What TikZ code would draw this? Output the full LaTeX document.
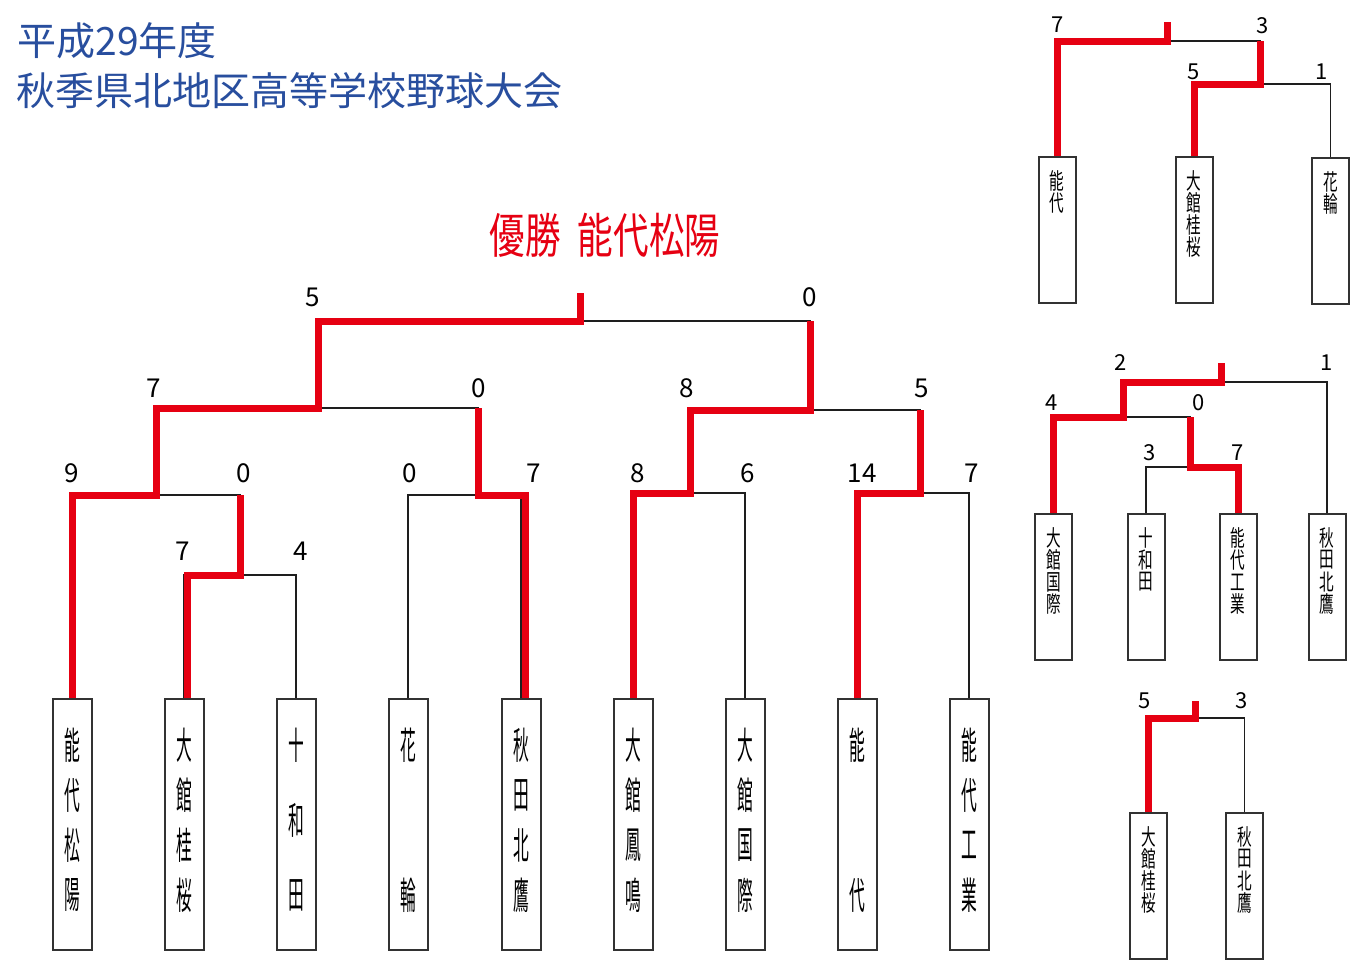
\documentclass[tikz,border=0pt]{standalone}
\usepackage{fontspec}
\usepackage{graphicx}
\setmainfont{Noto Sans CJK JP}
\definecolor{ttlblue}{RGB}{40,78,158}
\definecolor{winred}{RGB}{230,0,18}
\definecolor{boxgray}{RGB}{50,50,50}
\definecolor{linegray}{RGB}{30,30,30}
% main team: name, x, number of chars, chars
\newcommand\mteam[4]{%
  \node[mbox] (#1) at (#2,698) {};
  \foreach \c [count=\i] in {#4}
    \node[mchar] (#1-\i) at (#2,{745+150*(\i-1)/(#3-1)}) {\scalebox{0.42}[1]{\c}};
}
% small team: name, x, top y, chars
\newcommand\steam[4]{%
  \node[sbox] (#1) at (#2,#3) {};
  \foreach \c [count=\i] in {#4}
    \node[schar] (#1-\i) at (#2,{#3+25+22*(\i-1)}) {\scalebox{0.65}[1]{\c}};
}
\begin{document}
\begin{tikzpicture}[x=0.5pt,y=-0.5pt,
  mbox/.style={draw=boxgray,line width=1pt,fill=white,minimum width=19.5pt,minimum height=125.5pt,inner sep=0pt,anchor=north},
  sbox/.style={draw=boxgray,line width=1pt,fill=white,minimum width=18.5pt,minimum height=73pt,inner sep=0pt,anchor=north},
  mchar/.style={inner sep=0pt,font=\fontsize{18.75pt}{18.75pt}\selectfont},
  schar/.style={inner sep=0pt,font=\fontsize{11.25pt}{11.25pt}\selectfont},
  win/.style={draw=winred,line width=3.5pt},
  lose/.style={draw=linegray,line width=0.65pt},
  mscore/.style={inner sep=0pt,font=\fontsize{13pt}{13pt}\selectfont},
  sscore/.style={inner sep=0pt,font=\fontsize{11pt}{11pt}\selectfont},
  champ/.style={text=winred,inner sep=0pt,font=\fontsize{24pt}{24pt}\selectfont},
]
\useasboundingbox[fill=white] (0,0) rectangle (1366,965);

% titles
\node[anchor=base west,text=ttlblue,inner sep=0pt,font=\fontsize{19.5pt}{19.5pt}\selectfont] (ttl1) at (17,55) {平成29年度};
\node[anchor=base west,text=ttlblue,inner sep=0pt,font=\fontsize{19.5pt}{19.5pt}\selectfont] (ttl2) at (16,105) {秋季県北地区高等学校野球大会};
\node[champ] (champ1) at (525,235) {\scalebox{0.74}[1]{優勝}};
\node[champ] (champ2) at (649,235) {\scalebox{0.74}[1]{能代松陽}};

% ---------- main bracket ----------
\mteam{b1}{72}{4}{能,代,松,陽}
\mteam{b2}{184}{4}{大,館,桂,桜}
\mteam{b3}{296}{3}{十,和,田}
\mteam{b4}{408}{2}{花,輪}
\mteam{b5}{521}{4}{秋,田,北,鷹}
\mteam{b6}{633}{4}{大,館,鳳,鳴}
\mteam{b7}{745}{4}{大,館,国,際}
\mteam{b8}{857}{2}{能,代}
\mteam{b9}{969}{4}{能,代,工,業}

\coordinate (m1) at (240,575);
\coordinate (qA) at (156,495);
\coordinate (qB) at (478,495);
\coordinate (qC) at (690,493);
\coordinate (qD) at (920,493);
\coordinate (sL) at (318,408);
\coordinate (sR) at (810,410);
\coordinate (fin) at (580,321);

\draw[lose] (b2.north) |- (m1) -| (b3.north);
\draw[lose] (b1.north) |- (qA) -| (m1);
\draw[lose] (b4.north) |- (qB) -| (b5.north);
\draw[lose] (b6.north) |- (qC) -| (b7.north);
\draw[lose] (b8.north) |- (qD) -| (b9.north);
\draw[lose] (qA) |- (sL) -| (qB);
\draw[lose] (qC) |- (sR) -| (qD);
\draw[lose] (sL) |- (fin) -| (sR);

\draw[win] ([xshift=1.5pt]b2.north) |- (m1) -- (m1 |- qA);
\draw[win] ([xshift=2pt]b5.north) |- (qB) -- (qB |- sL);
\draw[win] (b8.north) |- (qD) -- (qD |- sR);
\draw[win] (b6.north) |- (qC) |- (sR) -- (sR |- fin);
\draw[win] (b1.north) |- (qA) |- (sL) |- (fin) -- ++(0,-28);

\node[mscore] (n1) at (313,297) {5};
\node[mscore] (n2) at (810,297) {0};
\node[mscore] (n3) at (154,388) {7};
\node[mscore] (n4) at (479,388) {0};
\node[mscore] (n5) at (687,388) {8};
\node[mscore] (n6) at (922,388) {5};
\node[mscore] (n7) at (72,473) {9};
\node[mscore] (n8) at (244,473) {0};
\node[mscore] (n9) at (410,473) {0};
\node[mscore] (n10) at (534,473) {7};
\node[mscore] (n11) at (638,473) {8};
\node[mscore] (n12) at (748,473) {6};
\node[mscore] (n13) at (862,473) {14};
\node[mscore] (n14) at (972,473) {7};
\node[mscore] (n15) at (183,551) {7};
\node[mscore] (n16) at (301,551) {4};

% ---------- top right ----------
\steam{t1}{1057}{156}{能,代}
\steam{t2}{1194}{156}{大,館,桂,桜}
\steam{t3}{1330.5}{157}{花,輪}
\coordinate (tA) at (1260,84);
\coordinate (tF) at (1167,41);
\draw[lose] (t2.north) |- (tA) -| (t3.north);
\draw[lose] (t1.north) |- (tF) -| (tA);
\draw[win] (t2.north) |- (tA) -- (tA |- tF);
\draw[win] (t1.north) |- (tF) -- ++(0,-19);
\node[sscore] (k1) at (1058,25) {7};
\node[sscore] (k2) at (1263,26) {3};
\node[sscore] (k3) at (1194,72) {5};
\node[sscore] (k4) at (1322,72) {1};

% ---------- middle right ----------
\steam{u1}{1053.5}{513}{大,館,国,際}
\steam{u2}{1146}{513}{十,和,田}
\steam{u3}{1238}{513}{能,代,工,業}
\steam{u4}{1327}{513}{秋,田,北,鷹}
\coordinate (uA) at (1190,467);
\coordinate (uB) at (1123,417);
\coordinate (uF) at (1221,382);
\draw[lose] (u2.north) |- (uA) -| (u3.north);
\draw[lose] (u1.north) |- (uB) -| (uA);
\draw[lose] (uB) |- (uF) -| (u4.north);
\draw[win] (u3.north) |- (uA) -- (uA |- uB);
\draw[win] (u1.north) |- (uB) |- (uF) -- ++(0,-19);
\node[sscore] (k5) at (1121,363) {2};
\node[sscore] (k6) at (1327,363) {1};
\node[sscore] (k7) at (1052,403) {4};
\node[sscore] (k8) at (1199,403) {0};
\node[sscore] (k9) at (1150,453) {3};
\node[sscore] (k10) at (1238,453) {7};

% ---------- bottom right ----------
\steam{v1}{1148.5}{812}{大,館,桂,桜}
\steam{v2}{1244.5}{812}{秋,田,北,鷹}
\coordinate (vF) at (1195,718);
\draw[lose] (v1.north) |- (vF) -| (v2.north);
\draw[win] (v1.north) |- (vF) -- ++(0,-17);
\node[sscore] (k11) at (1145,701) {5};
\node[sscore] (k12) at (1242,701) {3};
\end{tikzpicture}
\end{document}
